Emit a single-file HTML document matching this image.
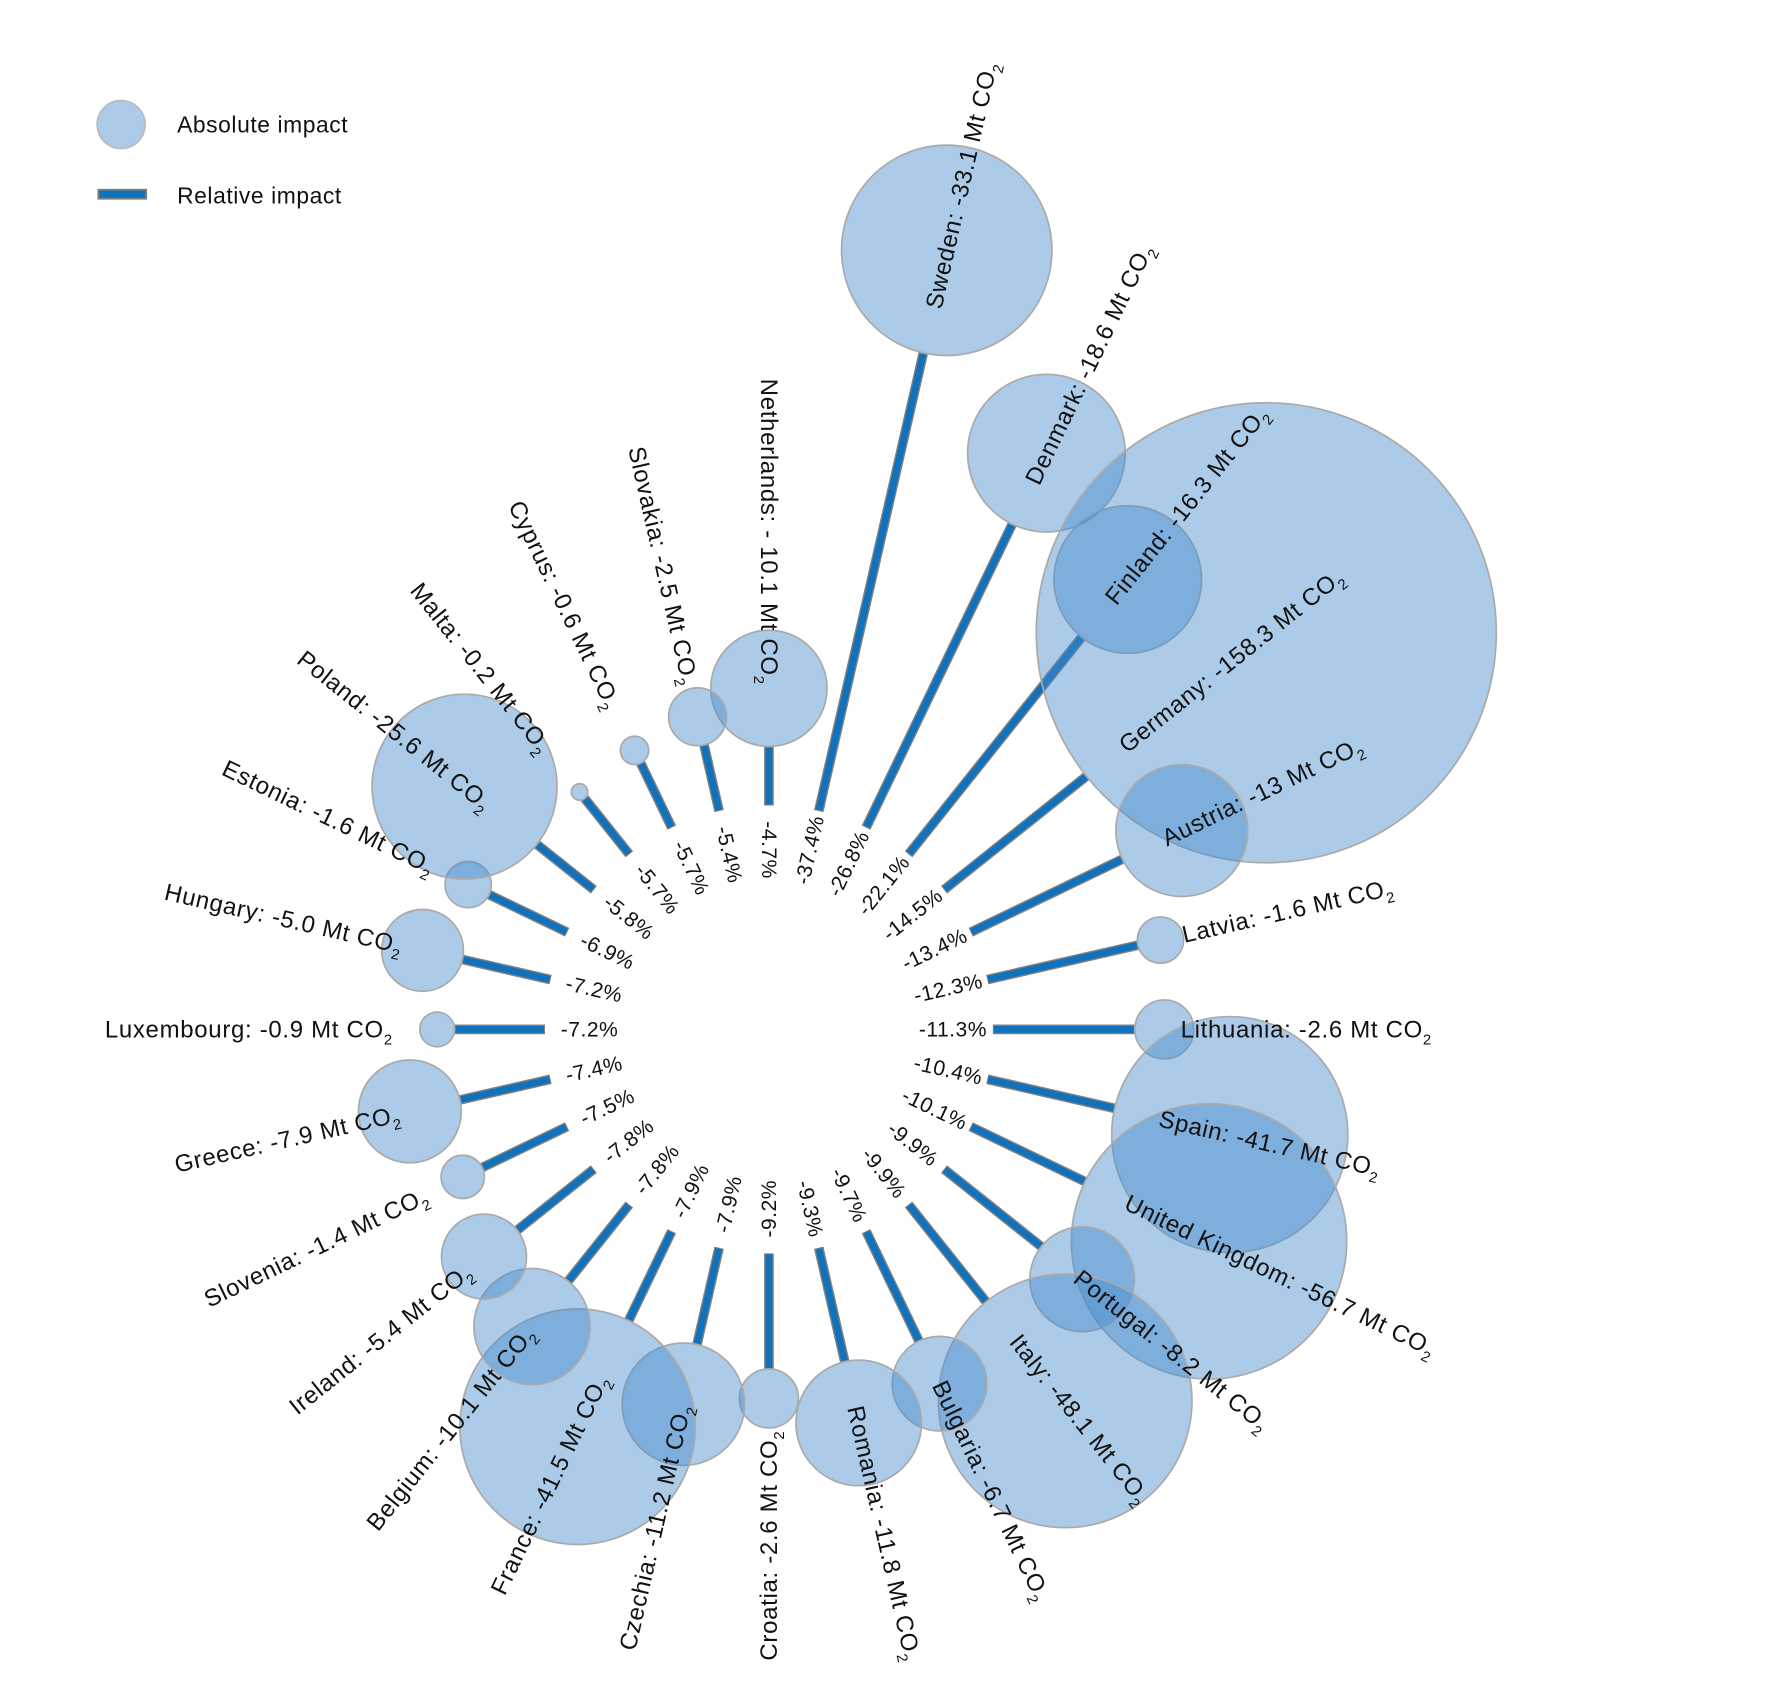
<!DOCTYPE html>
<html><head><meta charset="utf-8"><style>
html,body{margin:0;padding:0;background:#fff;}
svg{display:block;}
text{font-family:"Liberation Sans",Arial,sans-serif;fill:#111;}
</style></head><body>
<svg id="s" width="1790" height="1681" viewBox="0 0 1566.7 1471.3" xmlns="http://www.w3.org/2000/svg">
<circle cx="106" cy="109" r="21" fill="rgb(70,140,205)" fill-opacity="0.45" stroke="#bbb" stroke-width="1.5"/>
<text x="155" y="116" font-size="20" letter-spacing="0.5">Absolute impact</text>
<rect x="86" y="166" width="42" height="8" fill="#1172bb" stroke="#808080" stroke-width="1.5"/>
<text x="155" y="178" font-size="20" letter-spacing="0.5">Relative impact</text>
<g id="bars"></g><g id="circ"></g><g id="lab"></g>
</svg>
<script>
var d=[["Netherlands",4.7,"- 10.1"],["Sweden",37.4,"-33.1"],["Denmark",26.8,"-18.6"],["Finland",22.1,"-16.3"],["Germany",14.5,"-158.3"],["Austria",13.4,"-13"],["Latvia",12.3,"-1.6"],["Lithuania",11.3,"-2.6"],["Spain",10.4,"-41.7"],["United Kingdom",10.1,"-56.7"],["Portugal",9.9,"-8.2"],["Italy",9.9,"-48.1"],["Bulgaria",9.7,"-6.7"],["Romania",9.3,"-11.8"],["Croatia",9.2,"-2.6"],["Czechia",7.9,"-11.2"],["France",7.9,"-41.5"],["Belgium",7.8,"-10.1"],["Ireland",7.8,"-5.4"],["Slovenia",7.5,"-1.4"],["Greece",7.4,"-7.9"],["Luxembourg",7.2,"-0.9"],["Hungary",7.2,"-5.0"],["Estonia",6.9,"-1.6"],["Poland",5.8,"-25.6"],["Malta",5.7,"-0.2"],["Cyprus",5.7,"-0.6"],["Slovakia",5.4,"-2.5"]];
var cx=673,cy=901,R0=196,bars="",circ="",lab="";
function f(n){return n.toFixed(2);}
d.forEach(function(c,i){
 var a=i*360/28,r=a*Math.PI/180,ux=Math.sin(r),uy=-Math.cos(r);
 var R1=R0+11*c[1],ab=Math.abs(parseFloat(c[2].replace(" ",""))),rad=16*Math.sqrt(ab);
 var x0=cx+ux*R0,y0=cy+uy*R0,x1=cx+ux*R1,y1=cy+uy*R1;
 bars+='<line x1="'+f(x0)+'" y1="'+f(y0)+'" x2="'+f(x1)+'" y2="'+f(y1)+'" stroke="#808080" stroke-width="8.5"/>';
 bars+='<line x1="'+f(x0+ux*0.9)+'" y1="'+f(y0+uy*0.9)+'" x2="'+f(x1-ux*0.9)+'" y2="'+f(y1-uy*0.9)+'" stroke="#1172bb" stroke-width="6"/>';
 var Rc=R1+rad;
 circ+='<circle cx="'+f(cx+ux*Rc)+'" cy="'+f(cy+uy*Rc)+'" r="'+f(rad)+'" fill="rgb(70,140,205)" fill-opacity="0.45" stroke="#aaa" stroke-width="1.5"/>';
 var out=(a>0&&a<180),rot=out?a-90:a+90;
 var Rt=R1+(out?40:54),tx=cx+ux*Rt,ty=cy+uy*Rt;
 lab+='<text transform="translate('+f(tx)+','+f(ty)+') rotate('+f(rot)+')" font-size="21" letter-spacing="0.6" dy="7" text-anchor="'+(out?'start':'end')+'">'+c[0]+': '+c[2]+' Mt CO<tspan font-size="13" dy="6">2</tspan></text>';
 var Rp=out?161:157,px=cx+ux*Rp,py=cy+uy*Rp;
 lab+='<text transform="translate('+f(px)+','+f(py)+') rotate('+f(rot)+')" font-size="18.5" letter-spacing="0.4" dy="6" text-anchor="middle">-'+c[1].toFixed(1)+'%</text>';
});
document.getElementById("bars").innerHTML=bars;
document.getElementById("circ").innerHTML=circ;
document.getElementById("lab").innerHTML=lab;
</script>
</body></html>
